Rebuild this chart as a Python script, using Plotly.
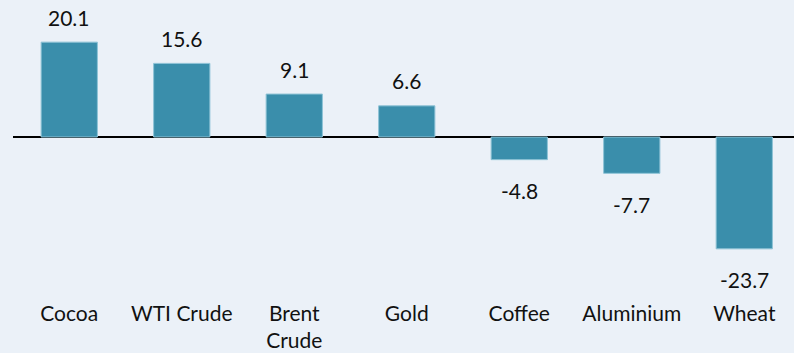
import plotly.graph_objects as go

categories = ["Cocoa", "WTI Crude", "Brent<br>Crude", "Gold", "Coffee", "Aluminium", "Wheat"]
changes = [20.1, 15.6, 9.1, 6.6, -4.8, -7.7, -23.7]

BAR_COLOR = "#3A8EAB"
BG = "#EBF1F8"
TEXT = "#111111"
FONT = "Lato, Carlito, sans-serif"

fig = go.Figure(
    go.Bar(
        x=list(range(len(categories))),
        y=changes,
        width=0.5,
        marker=dict(color=BAR_COLOR, line=dict(color="#8EC3D6", width=1)),
        hoverinfo="skip",
    )
)

# value labels above positive bars, below negative ones
for i, v in enumerate(changes):
    fig.add_annotation(
        x=i, y=v, text=f"{v:.1f}", showarrow=False,
        yshift=25 if v >= 0 else -31,
        font=dict(family=FONT, size=21, color=TEXT),
    )

fig.update_layout(
    width=794, height=353,
    margin=dict(l=13, r=0, t=0, b=63),
    paper_bgcolor=BG, plot_bgcolor=BG,
    showlegend=False,
    xaxis=dict(
        range=[-0.5, 6.442],
        tickmode="array",
        tickvals=list(range(len(categories))),
        ticktext=categories,
        tickfont=dict(family=FONT, size=21, color=TEXT),
        ticklabelstandoff=9,
        showgrid=False, zeroline=False, showline=False, ticks="",
    ),
    yaxis=dict(
        range=[-32.42, 29.03],
        showgrid=False, showticklabels=False, ticks="",
        zeroline=True, zerolinecolor="#000000", zerolinewidth=2,
        showline=False,
    ),
)

fig.write_html("out.html")
